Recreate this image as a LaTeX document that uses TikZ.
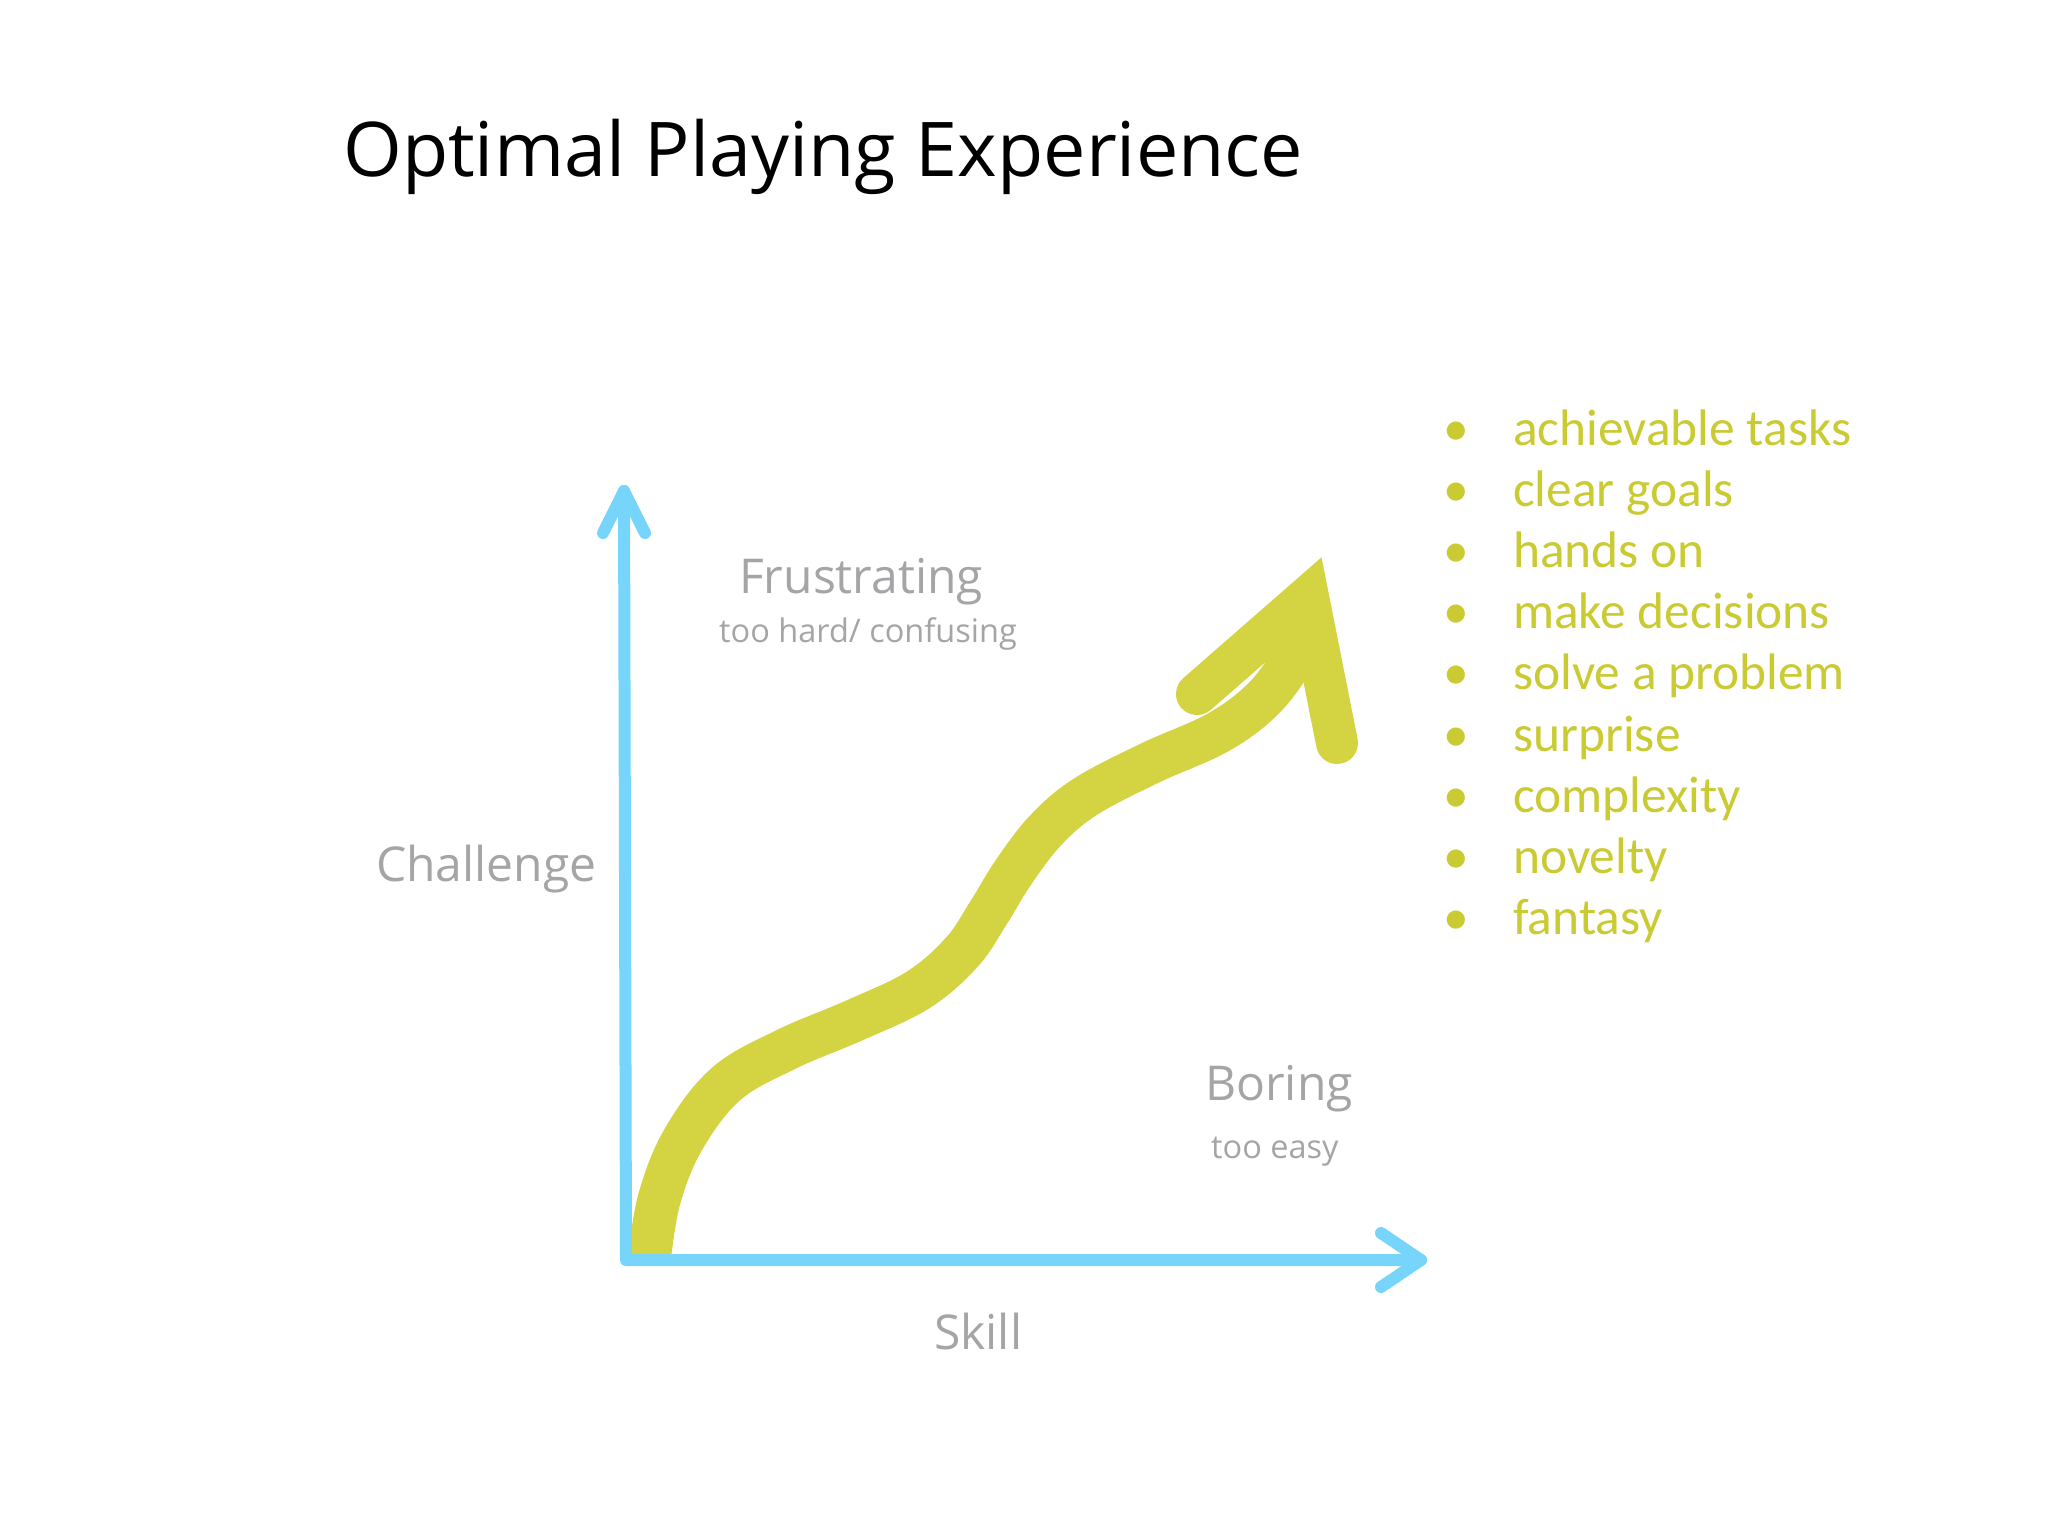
\documentclass[tikz,border=0pt]{standalone}
\usepackage{fontspec}
\setmainfont{Open Sans}
\newfontfamily\bulletfont{Carlito}
\definecolor{axisblue}{HTML}{77D5FB}
\definecolor{curveyellow}{HTML}{D4D443}
\definecolor{listyellow}{HTML}{CACA33}
\definecolor{labelgray}{HTML}{A5A5A8}
\begin{document}
\begin{tikzpicture}[x=1pt,y=-1pt,
  axis/.style={draw=axisblue,line width=12pt,line cap=round,line join=round},
  curve/.style={draw=curveyellow,line width=43pt,line cap=butt},
  head/.style={draw=curveyellow,line width=42pt,line cap=round,line join=miter},
  biglabel/.style={text=labelgray,inner sep=0pt,font=\fontsize{48}{52}\selectfont},
  smalllabel/.style={text=labelgray,inner sep=0pt,font=\fontsize{32.5}{36}\selectfont},
  item/.style={text=listyellow,inner sep=0pt,anchor=base west,font=\bulletfont\fontsize{51.4}{60}\selectfont},
  dot/.style={text=listyellow,inner sep=0pt,anchor=base,font=\bulletfont\fontsize{51.4}{60}\selectfont}]
\useasboundingbox[fill=white] (0,0) rectangle (2048,1536);
% title
\node[anchor=base west,inner sep=0pt,font=\fontsize{75.5}{86}\selectfont] (title) at (343,176) {Optimal Playing Experience};
% curve
\draw[curve] plot[smooth,tension=0.6] coordinates {(649,1262) (659,1200) (683,1140) (726,1084) (787,1049) (853,1021) (918,990) (962,952) (989,912) (1013,873) (1045,831) (1085,797) (1150,763) (1217,733) (1262,700) (1292,660) (1304,625)};
\coordinate (hl) at (1197,694);
\coordinate (hv) at (1308,597);
\coordinate (hr) at (1337,743);
\draw[head] (hl) -- (hv) -- (hr);
% axes
\coordinate (ytip) at (624,491);
\coordinate (origin) at (626,1260);
\coordinate (xtip) at (1421,1260);
\draw[axis] (ytip) -- (origin) -- (xtip);
\draw[axis] (603,533) -- (ytip) -- (645,533);
\draw[axis] (1381,1233) -- (xtip) -- (1381,1287);
% labels
\node[biglabel,anchor=base west] (challenge) at (376,881) {Challenge};
\node[biglabel,anchor=base west] (frus) at (739,593) {Frustrating};
\node[smalllabel,anchor=base west] (frus2) at (719,642) {too hard/ confusing};
\node[biglabel,anchor=base west] (boring) at (1205,1100) {Boring};
\node[smalllabel,anchor=base west] (boring2) at (1211,1158) {too easy};
\node[biglabel,anchor=base west] (skill) at (934,1349) {Skill};
% list
\foreach \t [count=\i from 0] in {achievable tasks,clear goals,hands on,make decisions,solve a problem,surprise,complexity,novelty,fantasy}{
  \node[dot] (d\i) at (1456,445+61.2*\i) {•};
  \node[item] (t\i) at (1513,445+61.2*\i) {\t};
}
\end{tikzpicture}
\end{document}
